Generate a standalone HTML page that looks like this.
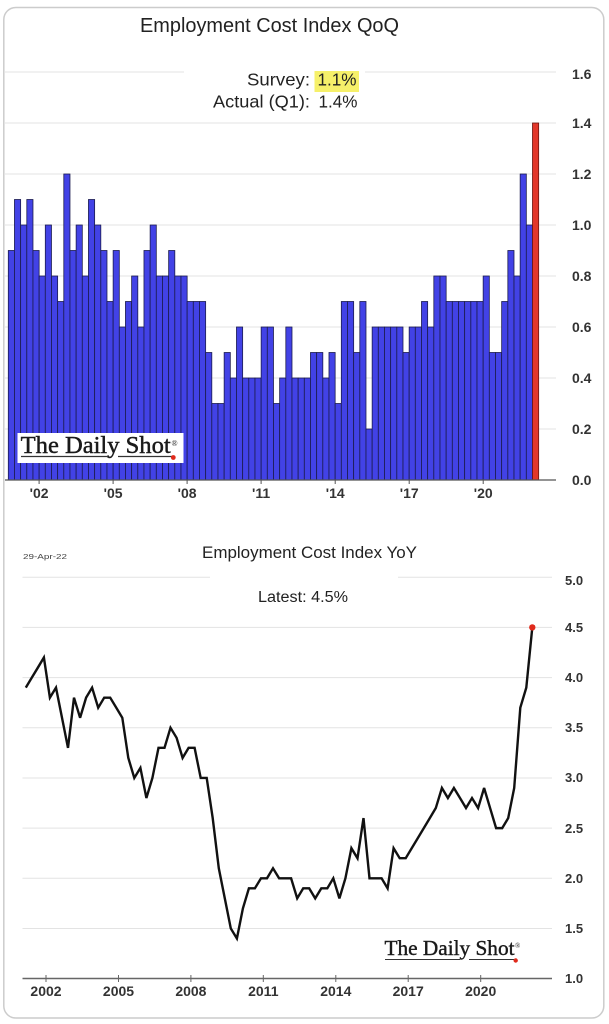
<!DOCTYPE html>
<html>
<head>
<meta charset="utf-8">
<style>
html,body{margin:0;padding:0;background:#fff;}
svg{display:block;}
text{font-family:"Liberation Sans",Arial,sans-serif;}
.ser{font-family:"Liberation Serif","Times New Roman",serif;}
.ax{font-weight:bold;fill:#333;}
</style>
</head>
<body>
<svg width="609" height="1024" viewBox="0 0 609 1024" xmlns="http://www.w3.org/2000/svg">
  <rect x="0" y="0" width="609" height="1024" fill="#fff"/>
  <rect x="3.8" y="7.5" width="600" height="1010.5" rx="12" ry="12" fill="#fff" stroke="#cccccc" stroke-width="1.5"/>

  <text x="140" y="32" font-size="20" fill="#222" textLength="259" lengthAdjust="spacingAndGlyphs">Employment Cost Index QoQ</text>

  <g stroke="#e3e3e3" stroke-width="1">
    <line x1="5" y1="72" x2="556" y2="72"/>
    <line x1="5" y1="123" x2="556" y2="123"/>
    <line x1="5" y1="174" x2="556" y2="174"/>
    <line x1="5" y1="225" x2="556" y2="225"/>
    <line x1="5" y1="276" x2="556" y2="276"/>
    <line x1="5" y1="327" x2="556" y2="327"/>
    <line x1="5" y1="378" x2="556" y2="378"/>
    <line x1="5" y1="429" x2="556" y2="429"/>
  </g>

  <rect x="184" y="60" width="181" height="52" fill="#fff"/>
  <text x="247" y="85.5" font-size="17.5" fill="#222" textLength="63" lengthAdjust="spacingAndGlyphs">Survey:</text>
  <rect x="314.5" y="71" width="44.5" height="21" fill="#f6f06a"/>
  <text x="317.5" y="85.5" font-size="17.5" fill="#222" textLength="39" lengthAdjust="spacingAndGlyphs">1.1%</text>
  <text x="213" y="107.5" font-size="17.5" fill="#222" textLength="97" lengthAdjust="spacingAndGlyphs">Actual (Q1):</text>
  <text x="318.5" y="107.5" font-size="17.5" fill="#222" textLength="39" lengthAdjust="spacingAndGlyphs">1.4%</text>

  <g transform="translate(0,480) scale(1,-1)" fill="#4242e6" stroke="#1c1c4e" stroke-width="0.8">
    <rect x="8.30" y="0" width="6.17" height="229.5"/>
    <rect x="14.47" y="0" width="6.17" height="280.5"/>
    <rect x="20.63" y="0" width="6.17" height="255"/>
    <rect x="26.80" y="0" width="6.17" height="280.5"/>
    <rect x="32.97" y="0" width="6.17" height="229.5"/>
    <rect x="39.14" y="0" width="6.17" height="204"/>
    <rect x="45.30" y="0" width="6.17" height="255"/>
    <rect x="51.47" y="0" width="6.17" height="204"/>
    <rect x="57.64" y="0" width="6.17" height="178.5"/>
    <rect x="63.80" y="0" width="6.17" height="306"/>
    <rect x="69.97" y="0" width="6.17" height="229.5"/>
    <rect x="76.14" y="0" width="6.17" height="255"/>
    <rect x="82.30" y="0" width="6.17" height="204"/>
    <rect x="88.47" y="0" width="6.17" height="280.5"/>
    <rect x="94.64" y="0" width="6.17" height="255"/>
    <rect x="100.81" y="0" width="6.17" height="229.5"/>
    <rect x="106.97" y="0" width="6.17" height="178.5"/>
    <rect x="113.14" y="0" width="6.17" height="229.5"/>
    <rect x="119.31" y="0" width="6.17" height="153"/>
    <rect x="125.47" y="0" width="6.17" height="178.5"/>
    <rect x="131.64" y="0" width="6.17" height="204"/>
    <rect x="137.81" y="0" width="6.17" height="153"/>
    <rect x="143.97" y="0" width="6.17" height="229.5"/>
    <rect x="150.14" y="0" width="6.17" height="255"/>
    <rect x="156.31" y="0" width="6.17" height="204"/>
    <rect x="162.48" y="0" width="6.17" height="204"/>
    <rect x="168.64" y="0" width="6.17" height="229.5"/>
    <rect x="174.81" y="0" width="6.17" height="204"/>
    <rect x="180.98" y="0" width="6.17" height="204"/>
    <rect x="187.14" y="0" width="6.17" height="178.5"/>
    <rect x="193.31" y="0" width="6.17" height="178.5"/>
    <rect x="199.48" y="0" width="6.17" height="178.5"/>
    <rect x="205.64" y="0" width="6.17" height="127.5"/>
    <rect x="211.81" y="0" width="6.17" height="76.5"/>
    <rect x="217.98" y="0" width="6.17" height="76.5"/>
    <rect x="224.15" y="0" width="6.17" height="127.5"/>
    <rect x="230.31" y="0" width="6.17" height="102"/>
    <rect x="236.48" y="0" width="6.17" height="153"/>
    <rect x="242.65" y="0" width="6.17" height="102"/>
    <rect x="248.81" y="0" width="6.17" height="102"/>
    <rect x="254.98" y="0" width="6.17" height="102"/>
    <rect x="261.15" y="0" width="6.17" height="153"/>
    <rect x="267.31" y="0" width="6.17" height="153"/>
    <rect x="273.48" y="0" width="6.17" height="76.5"/>
    <rect x="279.65" y="0" width="6.17" height="102"/>
    <rect x="285.82" y="0" width="6.17" height="153"/>
    <rect x="291.98" y="0" width="6.17" height="102"/>
    <rect x="298.15" y="0" width="6.17" height="102"/>
    <rect x="304.32" y="0" width="6.17" height="102"/>
    <rect x="310.48" y="0" width="6.17" height="127.5"/>
    <rect x="316.65" y="0" width="6.17" height="127.5"/>
    <rect x="322.82" y="0" width="6.17" height="102"/>
    <rect x="328.98" y="0" width="6.17" height="127.5"/>
    <rect x="335.15" y="0" width="6.17" height="76.5"/>
    <rect x="341.32" y="0" width="6.17" height="178.5"/>
    <rect x="347.49" y="0" width="6.17" height="178.5"/>
    <rect x="353.65" y="0" width="6.17" height="127.5"/>
    <rect x="359.82" y="0" width="6.17" height="178.5"/>
    <rect x="365.99" y="0" width="6.17" height="51"/>
    <rect x="372.15" y="0" width="6.17" height="153"/>
    <rect x="378.32" y="0" width="6.17" height="153"/>
    <rect x="384.49" y="0" width="6.17" height="153"/>
    <rect x="390.65" y="0" width="6.17" height="153"/>
    <rect x="396.82" y="0" width="6.17" height="153"/>
    <rect x="402.99" y="0" width="6.17" height="127.5"/>
    <rect x="409.16" y="0" width="6.17" height="153"/>
    <rect x="415.32" y="0" width="6.17" height="153"/>
    <rect x="421.49" y="0" width="6.17" height="178.5"/>
    <rect x="427.66" y="0" width="6.17" height="153"/>
    <rect x="433.82" y="0" width="6.17" height="204"/>
    <rect x="439.99" y="0" width="6.17" height="204"/>
    <rect x="446.16" y="0" width="6.17" height="178.5"/>
    <rect x="452.32" y="0" width="6.17" height="178.5"/>
    <rect x="458.49" y="0" width="6.17" height="178.5"/>
    <rect x="464.66" y="0" width="6.17" height="178.5"/>
    <rect x="470.83" y="0" width="6.17" height="178.5"/>
    <rect x="476.99" y="0" width="6.17" height="178.5"/>
    <rect x="483.16" y="0" width="6.17" height="204"/>
    <rect x="489.33" y="0" width="6.17" height="127.5"/>
    <rect x="495.49" y="0" width="6.17" height="127.5"/>
    <rect x="501.66" y="0" width="6.17" height="178.5"/>
    <rect x="507.83" y="0" width="6.17" height="229.5"/>
    <rect x="513.99" y="0" width="6.17" height="204"/>
    <rect x="520.16" y="0" width="6.17" height="306"/>
    <rect x="526.33" y="0" width="6.17" height="255"/>
    <rect x="532.50" y="0" width="6.17" height="357" fill="#e2372a" stroke="#6a1510"/>
  </g>

  <line x1="5" y1="480" x2="556" y2="480" stroke="#555" stroke-width="1.2"/>
  <g stroke="#555" stroke-width="1">
    <line x1="39.1" y1="480" x2="39.1" y2="484"/>
    <line x1="113.1" y1="480" x2="113.1" y2="484"/>
    <line x1="187.1" y1="480" x2="187.1" y2="484"/>
    <line x1="261.1" y1="480" x2="261.1" y2="484"/>
    <line x1="335.2" y1="480" x2="335.2" y2="484"/>
    <line x1="409.2" y1="480" x2="409.2" y2="484"/>
    <line x1="483.2" y1="480" x2="483.2" y2="484"/>
  </g>
  <g class="ax" font-size="14" text-anchor="middle">
    <text x="39.1" y="498">'02</text>
    <text x="113.1" y="498">'05</text>
    <text x="187.1" y="498">'08</text>
    <text x="261.1" y="498">'11</text>
    <text x="335.2" y="498">'14</text>
    <text x="409.2" y="498">'17</text>
    <text x="483.2" y="498">'20</text>
  </g>
  <g class="ax" font-size="14">
    <text x="572" y="79">1.6</text>
    <text x="572" y="128">1.4</text>
    <text x="572" y="179">1.2</text>
    <text x="572" y="230">1.0</text>
    <text x="572" y="281">0.8</text>
    <text x="572" y="332">0.6</text>
    <text x="572" y="383">0.4</text>
    <text x="572" y="434">0.2</text>
    <text x="572" y="485">0.0</text>
  </g>

  <rect x="17.5" y="433" width="166" height="30" fill="#fff"/>
  <text class="ser" x="20.7" y="453" font-size="24" fill="#1a1a1a" stroke="#1a1a1a" stroke-width="0.45" textLength="150" lengthAdjust="spacingAndGlyphs">The Daily Shot</text>
  <text class="ser" x="171.5" y="446" font-size="8" fill="#1a1a1a">®</text>
  <g stroke="#333" stroke-width="1.2">
    <line x1="21" y1="456.5" x2="108" y2="456.5"/>
    <line x1="118" y1="456.5" x2="172" y2="456.5"/>
  </g>
  <circle cx="173.3" cy="457.5" r="2.4" fill="#e02a1c"/>

  <text x="23" y="559" font-size="7.5" fill="#444" textLength="44" lengthAdjust="spacingAndGlyphs">29-Apr-22</text>
  <text x="202" y="558" font-size="17" fill="#222" textLength="215" lengthAdjust="spacingAndGlyphs">Employment Cost Index YoY</text>

  <g stroke="#e3e3e3" stroke-width="1">
    <line x1="22.5" y1="577.3" x2="552" y2="577.3"/>
    <line x1="22.5" y1="627.4" x2="552" y2="627.4"/>
    <line x1="22.5" y1="677.6" x2="552" y2="677.6"/>
    <line x1="22.5" y1="727.8" x2="552" y2="727.8"/>
    <line x1="22.5" y1="778" x2="552" y2="778"/>
    <line x1="22.5" y1="828.1" x2="552" y2="828.1"/>
    <line x1="22.5" y1="878.3" x2="552" y2="878.3"/>
    <line x1="22.5" y1="928.5" x2="552" y2="928.5"/>
  </g>

  <rect x="210" y="569" width="188" height="43" fill="#fff"/>
  <text x="258" y="602" font-size="15.5" fill="#222" textLength="90" lengthAdjust="spacingAndGlyphs">Latest:  4.5%</text>

  <g transform="matrix(1 0 0 1.0035 0 -1.77)">
    <polyline fill="none" stroke="#111" stroke-width="2.4" stroke-linejoin="miter" stroke-miterlimit="3" points="25.8,687 31.8,677 37.9,667 43.9,657 49.9,697 56.0,687 62.0,717 68.0,747 74.0,697 80.1,717 86.1,697 92.1,687 98.2,707 104.2,697 110.2,697 116.3,707 122.3,717 128.3,757 134.3,777 140.4,767 146.4,797 152.4,777 158.5,747 164.5,747 170.5,727 176.6,737 182.6,757 188.6,747 194.6,747 200.7,777 206.7,777 212.7,817 218.8,867 224.8,897 230.8,927 236.9,937 242.9,907 248.9,887 254.9,887 261.0,877 267.0,877 273.0,867 279.1,877 285.1,877 291.1,877 297.2,897 303.2,887 309.2,887 315.2,897 321.3,887 327.3,887 333.3,877 339.4,897 345.4,877 351.4,847 357.5,857 363.5,817 369.5,877 375.5,877 381.6,877 387.6,887 393.6,847 399.7,857 405.7,857 411.7,847 417.8,837 423.8,827 429.8,817 435.8,807 441.9,787 447.9,797 453.9,787 460.0,797 466.0,807 472.0,797 478.1,807 484.1,787 490.1,807 496.1,827 502.2,827 508.2,817 514.2,787 520.3,707 526.3,687 532.3,627"/>
  </g>
  <circle cx="532.3" cy="627.4" r="3.2" fill="#e02a1c"/>

  <line x1="22.5" y1="978.5" x2="552" y2="978.5" stroke="#666" stroke-width="1.5"/>
  <g stroke="#666" stroke-width="1">
    <line x1="46" y1="975" x2="46" y2="982"/>
    <line x1="118.5" y1="975" x2="118.5" y2="982"/>
    <line x1="190.9" y1="975" x2="190.9" y2="982"/>
    <line x1="263.3" y1="975" x2="263.3" y2="982"/>
    <line x1="335.8" y1="975" x2="335.8" y2="982"/>
    <line x1="408.2" y1="975" x2="408.2" y2="982"/>
    <line x1="480.7" y1="975" x2="480.7" y2="982"/>
  </g>
  <g class="ax" font-size="14" text-anchor="middle">
    <text x="46" y="996">2002</text>
    <text x="118.5" y="996">2005</text>
    <text x="190.9" y="996">2008</text>
    <text x="263.3" y="996">2011</text>
    <text x="335.8" y="996">2014</text>
    <text x="408.2" y="996">2017</text>
    <text x="480.7" y="996">2020</text>
  </g>
  <g class="ax" font-size="13">
    <text x="565" y="585">5.0</text>
    <text x="565" y="632">4.5</text>
    <text x="565" y="682">4.0</text>
    <text x="565" y="732">3.5</text>
    <text x="565" y="782">3.0</text>
    <text x="565" y="833">2.5</text>
    <text x="565" y="883">2.0</text>
    <text x="565" y="933">1.5</text>
    <text x="565" y="983">1.0</text>
  </g>

  <text class="ser" x="384.5" y="955" font-size="21" fill="#1a1a1a" stroke="#1a1a1a" stroke-width="0.4" textLength="130" lengthAdjust="spacingAndGlyphs">The Daily Shot</text>
  <text class="ser" x="515" y="948" font-size="7" fill="#1a1a1a">®</text>
  <g stroke="#333" stroke-width="1.1">
    <line x1="385" y1="959.5" x2="460" y2="959.5"/>
    <line x1="469" y1="959.5" x2="514" y2="959.5"/>
  </g>
  <circle cx="515.7" cy="960.5" r="2.2" fill="#e02a1c"/>
</svg>
</body>
</html>
